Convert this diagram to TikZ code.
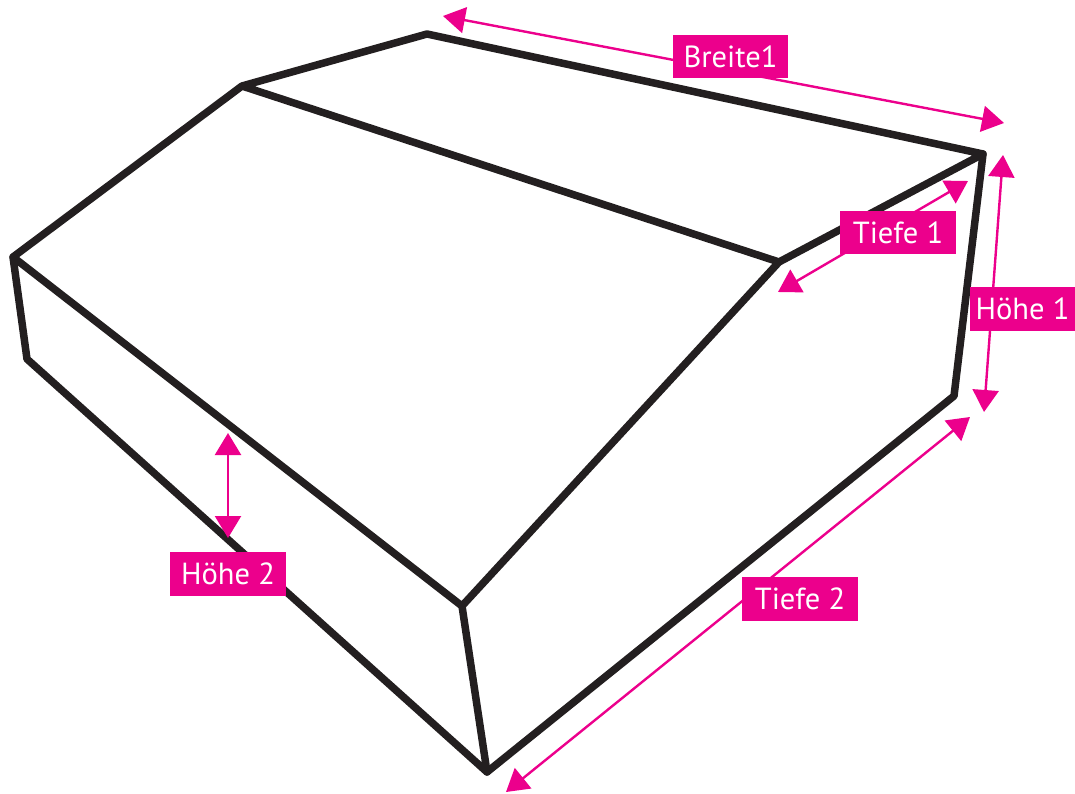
\documentclass[tikz,border=0pt]{standalone}
\usepackage{fontspec}
\setmainfont{PT Sans}
\usetikzlibrary{arrows.meta}
\definecolor{pinkm}{HTML}{EC008C}
\definecolor{edgec}{HTML}{231F20}
\tikzset{
  edge/.style={draw=edgec, line width=7.5pt, line join=round, line cap=round},
  dim/.style={draw=pinkm, line width=2.4pt, {Triangle[length=22pt,width=26pt]}-{Triangle[length=22pt,width=26pt]}},
  lab/.style={fill=pinkm, text=white, inner sep=0pt, font=\fontsize{30.5}{33}\selectfont, minimum height=43pt},
}
\begin{document}
\begin{tikzpicture}[x=1pt,y=-1pt]
\useasboundingbox (0,0) rectangle (1075,794);
% vertices
\coordinate (A) at (427,34);
\coordinate (B) at (242,86);
\coordinate (C) at (13,257);
\coordinate (D) at (27,359);
\coordinate (E) at (487,772);
\coordinate (F) at (462,606);
\coordinate (G) at (779,262);
\coordinate (H) at (983,154);
\coordinate (I) at (954,396);
% box edges
\draw[edge] (G) -- (B) -- (A) -- (H) -- (G) -- (F) -- (C) -- (B);
\draw[edge] (C) -- (D) -- (E) -- (F);
\draw[edge] (E) -- (I) -- (H);
% dimension end points
\coordinate (b1) at (443,16);
\coordinate (b2) at (1004,123);
\coordinate (t1a) at (968,181);
\coordinate (t1b) at (778,292);
\coordinate (h1a) at (1003,155);
\coordinate (h1b) at (984,412);
\coordinate (h2a) at (228,433);
\coordinate (h2b) at (228,538);
\coordinate (t2a) at (970,417);
\coordinate (t2b) at (506,792);
\draw[dim] (b1) -- (b2);
\draw[dim] (t1a) -- (t1b);
\draw[dim] (h1a) -- (h1b);
\draw[dim] (h2a) -- (h2b);
\draw[dim] (t2a) -- (t2b);
% labels
\node[lab, minimum width=115pt] (lb) at (730.5,56.5) {Breite1};
\node[lab, minimum width=116pt] (lt1) at (898,232.5) {Tiefe 1};
\node[lab, minimum width=105pt, minimum height=44pt] (lh1) at (1022.5,309) {Höhe 1};
\node[lab, minimum width=116pt, minimum height=44pt] (lh2) at (228,574) {Höhe 2};
\node[lab, minimum width=116pt, minimum height=44pt] (lt2) at (800,599) {Tiefe 2};
\end{tikzpicture}
\end{document}
